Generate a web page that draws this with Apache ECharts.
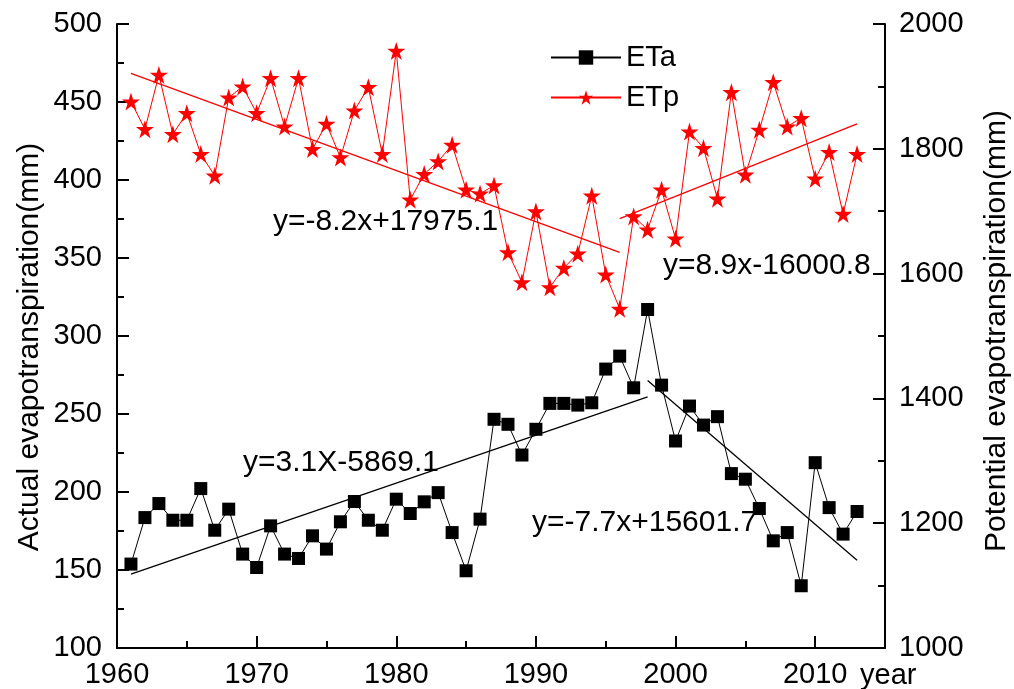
<!DOCTYPE html>
<html>
<head>
<meta charset="utf-8">
<script src="https://cdn.jsdelivr.net/npm/echarts@6/dist/echarts.min.js"></script>
<style>
html,body{margin:0;padding:0;background:#fff;}
#chart{width:1014px;height:689px;}
</style>
</head>
<body>
<div id="chart"></div>
<script>
// ---------- data ----------
const years = [1961,1962,1963,1964,1965,1966,1967,1968,1969,1970,
  1971,1972,1973,1974,1975,1976,1977,1978,1979,1980,
  1981,1982,1983,1984,1985,1986,1987,1988,1989,1990,
  1991,1992,1993,1994,1995,1996,1997,1998,1999,2000,
  2001,2002,2003,2004,2005,2006,2007,2008,2009,2010,
  2011,2012,2013];

const etaValues = [153.8,183.6,192.6,181.9,181.9,202.2,175.5,189.0,160.2,151.6,
  178.3,160.2,157.4,171.9,163.4,180.9,193.9,181.9,175.5,195.4,
  186.2,193.7,199.6,174.0,149.5,182.6,246.6,243.4,223.7,240.2,
  256.8,256.8,255.7,257.2,278.8,287.1,266.8,317.0,268.5,232.7,
  255.1,242.9,248.3,211.8,208.2,189.4,168.7,174.0,139.9,218.8,
  190.0,173.0,187.5];

const etpValues = [1875.7,1831.5,1918.4,1823.5,1857.1,1791.5,1756.8,1882.1,1899.7,1857.1,
  1913.1,1835.7,1913.1,1799.5,1840.0,1786.1,1861.3,1898.7,1791.5,1956.8,
  1718.4,1759.5,1779.7,1806.4,1734.4,1728.0,1741.3,1634.1,1586.1,1699.7,
  1578.1,1609.0,1632.0,1724.8,1598.4,1543.5,1691.7,1670.4,1734.4,1656.0,
  1827.7,1801.1,1720.0,1890.7,1758.4,1830.4,1906.7,1835.7,1849.1,1752.0,
  1794.7,1695.5,1791.5];

// trend line end points (year, value)
const etaTrend1Years = [1961, 1998], etaTrend1Values = [147.4, 261.0];
const etaTrend2Years = [1998, 2013], etaTrend2Values = [271.5, 156.3];
const etpTrend1Years = [1961, 1996], etpTrend1Values = [1921.0, 1634.0];
const etpTrend2Years = [1996, 2013], etpTrend2Values = [1688.0, 1840.0];

const equations = ['y=-8.2x+17975.1', 'y=8.9x-16000.8', 'y=3.1X-5869.1', 'y=-7.7x+15601.7'];
const seriesNames = ['ETa', 'ETp'];
const leftTitle = 'Actual evapotranspiration(mm)';
const rightTitle = 'Potential evapotranspiration(mm)';
const xName = 'year';

// ---------- chart ----------
const FONT = '"Liberation Sans", Arial, Helvetica, sans-serif';
const FS = 29;
const FS_EQ = 30;
const FS_TITLE = 30;
const STAR = 'path://M50,0 L61.2,34.5 L97.6,34.5 L68.2,55.9 L79.4,90.5 L50,69.1 L20.6,90.5 L31.8,55.9 L2.4,34.5 L38.8,34.5 Z';

function pairs(xs, ys){ return xs.map((x,i)=>[x, ys[i]]); }

const chart = echarts.init(document.getElementById('chart'), null, {renderer:'canvas'});
const axisLine = {show:true, lineStyle:{color:'#000', width:2}};
const txt = {color:'#000', fontFamily:FONT, fontSize:FS, formatter:(v)=>String(v)};

const option = {
  backgroundColor:'#fff',
  animation:false,
  textStyle:{fontFamily:FONT},
  grid:{left:117, right:129, top:24, bottom:40, containLabel:false},
  legend:{
    orient:'vertical', left:545, top:38, itemWidth:70, itemHeight:18, itemGap:11,
    textStyle:{color:'#000', fontFamily:FONT, fontSize:FS},
    data:seriesNames
  },
  xAxis:[{
    type:'value', min:1960, max:2015, interval:10, position:'bottom',
    axisLine:axisLine,
    axisTick:{show:true, inside:true, length:12, lineStyle:{color:'#000', width:2}},
    axisLabel:Object.assign({margin:12, showMaxLabel:false}, txt),
    splitLine:{show:false}
  },{
    type:'value', min:1960, max:2015, interval:5, position:'bottom',
    axisLine:{show:false},
    axisTick:{show:true, inside:true, length:7, lineStyle:{color:'#000', width:2}},
    axisLabel:{show:false},
    splitLine:{show:false}
  }],
  yAxis:[{
    type:'value', min:100, max:500, interval:50, position:'left',
    axisLine:axisLine,
    axisTick:{show:true, inside:true, length:12, lineStyle:{color:'#000', width:2}},
    minorTick:{show:true, splitNumber:2, length:7, lineStyle:{color:'#000', width:2}},
    axisLabel:Object.assign({margin:15}, txt),
    splitLine:{show:false}
  },{
    type:'value', min:1000, max:2000, interval:200, position:'right',
    axisLine:axisLine,
    axisTick:{show:true, inside:true, length:12, lineStyle:{color:'#000', width:2}},
    minorTick:{show:true, splitNumber:2, length:7, lineStyle:{color:'#000', width:2}},
    axisLabel:Object.assign({margin:14}, txt),
    splitLine:{show:false}
  }],
  series:[
    {name:seriesNames[0], type:'line', xAxisIndex:0, yAxisIndex:0, data:pairs(years, etaValues),
     symbol:'rect', symbolSize:13, lineStyle:{color:'#000', width:1}, itemStyle:{color:'#000'}, z:3},
    {name:seriesNames[1], type:'line', xAxisIndex:0, yAxisIndex:1, data:pairs(years, etpValues),
     symbol:STAR, symbolSize:18, lineStyle:{color:'#ff0000', width:1}, itemStyle:{color:'#ff0000'}, z:3},
    {name:'etaTrend1', type:'line', yAxisIndex:0, data:pairs(etaTrend1Years, etaTrend1Values), symbol:'none', lineStyle:{color:'#000', width:1.3}},
    {name:'etaTrend2', type:'line', yAxisIndex:0, data:pairs(etaTrend2Years, etaTrend2Values), symbol:'none', lineStyle:{color:'#000', width:1.3}},
    {name:'etpTrend1', type:'line', yAxisIndex:1, data:pairs(etpTrend1Years, etpTrend1Values), symbol:'none', lineStyle:{color:'#ff0000', width:1.3}},
    {name:'etpTrend2', type:'line', yAxisIndex:1, data:pairs(etpTrend2Years, etpTrend2Values), symbol:'none', lineStyle:{color:'#ff0000', width:1.3}}
  ],
  graphic:[
    {type:'text', left:273, top:222-FS_EQ/2, style:{text:equations[0], fill:'#000', font:FS_EQ+'px '+FONT}},
    {type:'text', left:663, top:266-FS_EQ/2, style:{text:equations[1], fill:'#000', font:FS_EQ+'px '+FONT}},
    {type:'text', left:243, top:463-FS_EQ/2, style:{text:equations[2], fill:'#000', font:FS_EQ+'px '+FONT}},
    {type:'text', left:532, top:523-FS_EQ/2, style:{text:equations[3], fill:'#000', font:FS_EQ+'px '+FONT}},
    {type:'text', left:860, top:676-FS/2, style:{text:xName, fill:'#000', font:FS+'px '+FONT}},
    {type:'text', x:30, y:347, rotation:Math.PI/2, style:{text:leftTitle, fill:'#000', font:FS_TITLE+'px '+FONT, align:'center', verticalAlign:'middle'}},
    {type:'text', x:997, y:331, rotation:Math.PI/2, style:{text:rightTitle, fill:'#000', font:FS_TITLE+'px '+FONT, align:'center', verticalAlign:'middle'}}
  ]
};
chart.setOption(option);
</script>
</body>
</html>
